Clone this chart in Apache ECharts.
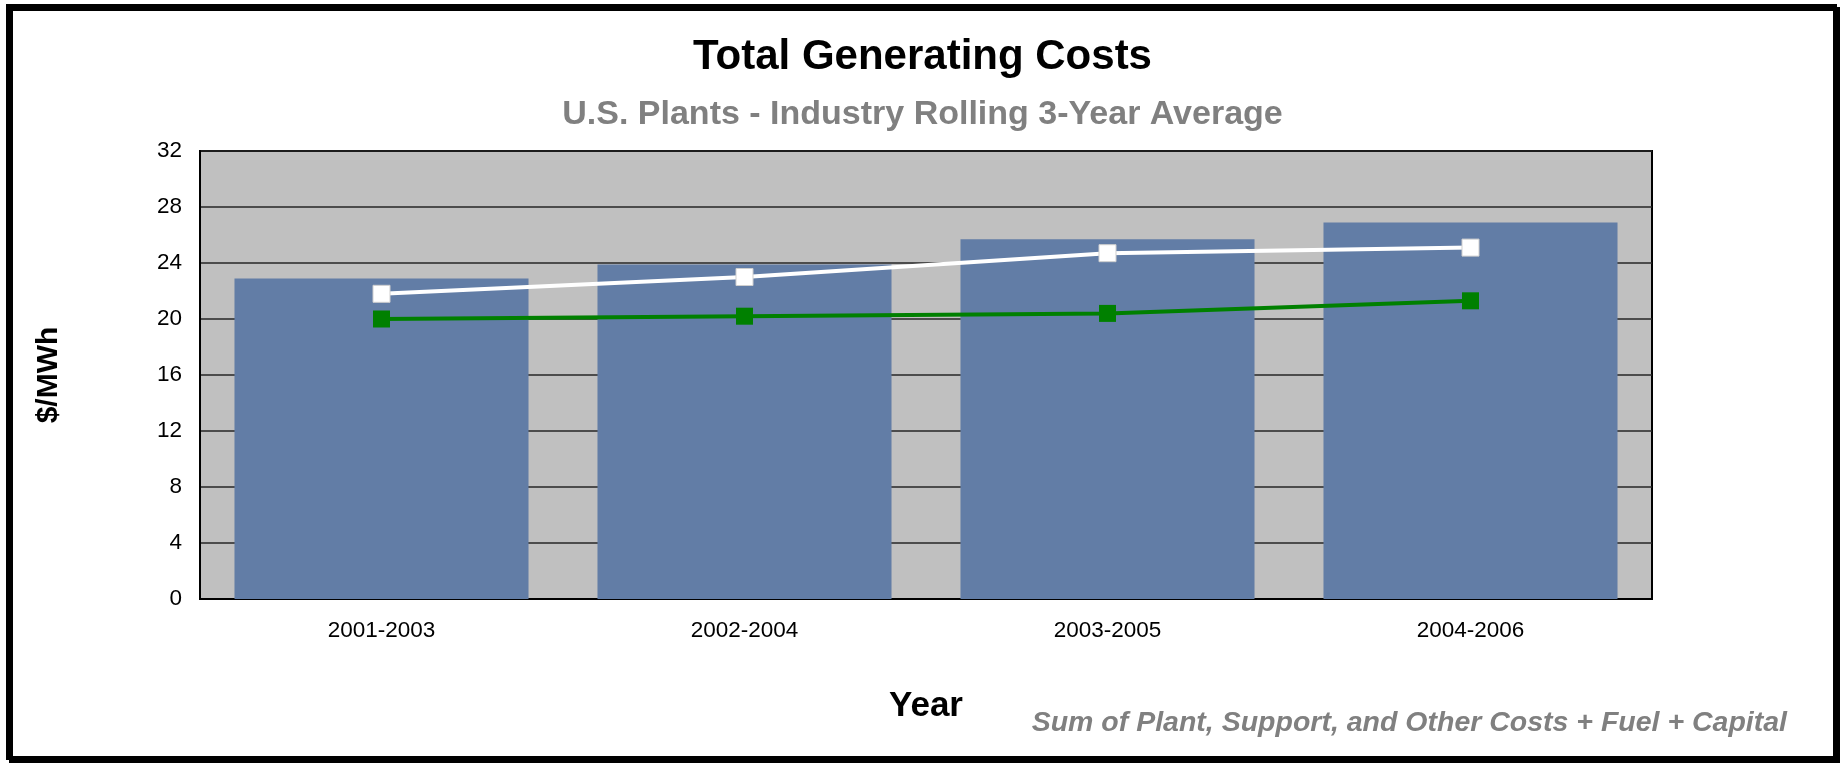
<!DOCTYPE html>
<html>
<head>
<meta charset="utf-8">
<script src="https://cdn.jsdelivr.net/npm/echarts@6/dist/echarts.min.js"></script>
<style>
html,body{margin:0;padding:0;background:#fff;}
#chart{width:1845px;height:765px;}
</style>
</head>
<body>
<div id="chart"></div>
<script>
const categories = ['2001-2003', '2002-2004', '2003-2005', '2004-2006'];
const totalCosts = [22.9, 23.9, 25.7, 26.9];
const whiteSeries = [21.8, 23.0, 24.7, 25.1];
const greenSeries = [20.0, 20.2, 20.4, 21.3];
const yTicks = [0, 4, 8, 12, 16, 20, 24, 28, 32];

const FONT = '"Liberation Sans", Arial, sans-serif';
const chart = echarts.init(document.getElementById('chart'));
chart.setOption({
  animation: false,
  backgroundColor: '#fff',
  title: [
    { text: 'Total Generating Costs', left: 'center', top: 31,
      textStyle: { fontFamily: FONT, fontSize: 42, fontWeight: 'bold', color: '#000' } },
    { text: 'U.S. Plants - Industry Rolling 3-Year Average', left: 'center', top: 93,
      textStyle: { fontFamily: FONT, fontSize: 34, fontWeight: 'bold', color: '#808080' } }
  ],
  graphic: [
    { type: 'rect', z: 100, silent: true,
      shape: { x: 8, y: 6, width: 1827, height: 752 },
      style: { fill: 'none', stroke: '#000', lineWidth: 4,
               shadowColor: '#000', shadowOffsetX: 3, shadowOffsetY: 3, shadowBlur: 0 } },
    { type: 'text', right: 58, top: 709, z: 50,
      style: { text: 'Sum of Plant, Support, and Other Costs + Fuel + Capital',
               font: 'italic bold 28.5px ' + FONT, fill: '#808080' } }
  ],
  grid: { left: 200, right: 193, top: 151, bottom: 166, show: true,
          backgroundColor: '#C0C0C0', borderColor: '#000', borderWidth: 2 },
  xAxis: {
    type: 'category', data: categories, boundaryGap: true,
    name: 'Year', nameLocation: 'middle', nameGap: 90,
    nameTextStyle: { fontFamily: FONT, fontSize: 35, fontWeight: 'bold', color: '#000' },
    axisLine: { lineStyle: { color: '#000', width: 2 } },
    axisTick: { show: false },
    axisLabel: { fontFamily: FONT, fontSize: 22.5, color: '#000', margin: 20 }
  },
  yAxis: {
    type: 'value', min: 0, max: 32, interval: 4,
    name: '$/MWh', nameLocation: 'middle', nameRotate: 90, nameGap: 136,
    nameTextStyle: { fontFamily: FONT, fontSize: 30, fontWeight: 'bold', color: '#000' },
    axisLine: { show: true, lineStyle: { color: '#000', width: 2 } },
    axisTick: { show: false },
    axisLabel: { fontFamily: FONT, fontSize: 22.5, color: '#000', margin: 18,
                 formatter: v => yTicks.includes(v) ? String(v) : '' },
    splitLine: { show: true, lineStyle: { color: '#262626', width: 1.5 } }
  },
  series: [
    { type: 'bar', data: totalCosts, barCategoryGap: '19%',
      itemStyle: { color: '#627DA6' }, z: 2 },
    { type: 'line', data: whiteSeries, symbol: 'rect', symbolSize: 17,
      lineStyle: { color: '#fff', width: 4 },
      itemStyle: { color: '#fff', borderColor: '#cfcfcf', borderWidth: 1 }, z: 4 },
    { type: 'line', data: greenSeries, symbol: 'rect', symbolSize: 17,
      lineStyle: { color: '#008000', width: 4 },
      itemStyle: { color: '#008000' }, z: 3 }
  ]
});
</script>
</body>
</html>
